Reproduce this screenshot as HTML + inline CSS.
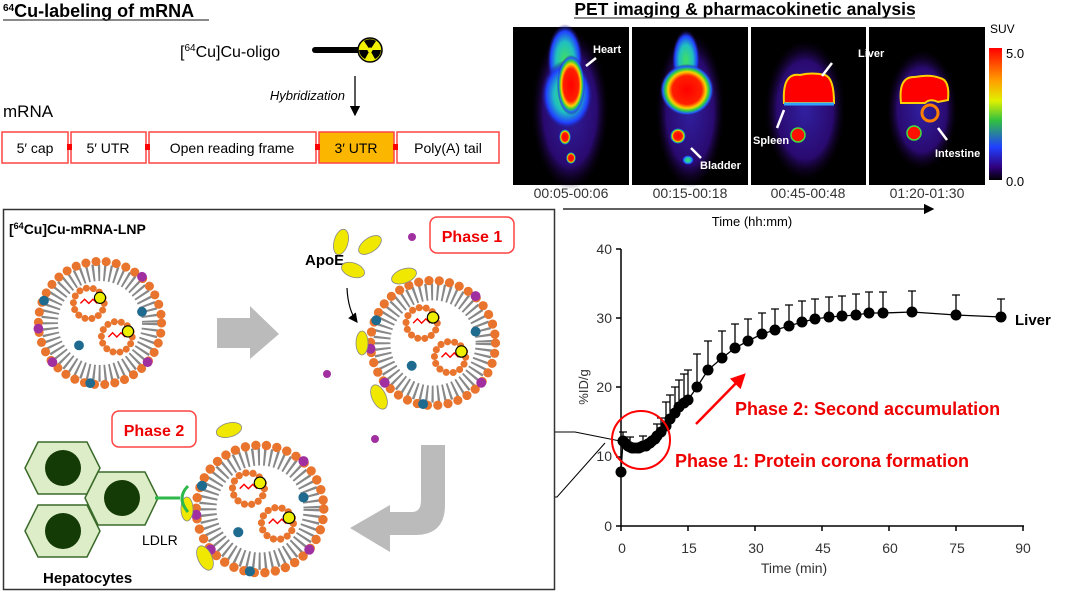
<!DOCTYPE html>
<html><head><meta charset="utf-8"><style>
html,body{margin:0;padding:0;background:#fff;}
svg{display:block;font-family:"Liberation Sans",Arial,sans-serif;}
</style></head><body>
<svg width="1080" height="595" viewBox="0 0 1080 595" xmlns="http://www.w3.org/2000/svg">
<defs>
<radialGradient id="hot" cx="50%" cy="50%" r="50%">
<stop offset="0" stop-color="#ff0000"/><stop offset="0.55" stop-color="#ff2000"/><stop offset="0.7" stop-color="#ffd000"/><stop offset="0.8" stop-color="#30d040"/><stop offset="0.9" stop-color="#2060ff"/><stop offset="1" stop-color="#2a0a60" stop-opacity="0"/>
</radialGradient>
<radialGradient id="warm" cx="50%" cy="50%" r="50%">
<stop offset="0" stop-color="#40e060"/><stop offset="0.5" stop-color="#20c0c0"/><stop offset="0.8" stop-color="#2040ff"/><stop offset="1" stop-color="#200860" stop-opacity="0"/>
</radialGradient>
<radialGradient id="dim" cx="50%" cy="50%" r="50%">
<stop offset="0" stop-color="#3020a0"/><stop offset="0.7" stop-color="#2a0a70"/><stop offset="1" stop-color="#100020" stop-opacity="0"/>
</radialGradient>
<linearGradient id="cbar" x1="0" y1="0" x2="0" y2="1">
<stop offset="0" stop-color="#ff0000"/><stop offset="0.25" stop-color="#ffa000"/><stop offset="0.4" stop-color="#e0f000"/><stop offset="0.55" stop-color="#30c040"/><stop offset="0.75" stop-color="#2040ff"/><stop offset="0.9" stop-color="#300080"/><stop offset="1" stop-color="#000"/>
</linearGradient>
<marker id="ah" markerWidth="8" markerHeight="8" refX="7" refY="4" orient="auto"><path d="M0,0 L8,4 L0,8 z" fill="#000"/></marker>
<marker id="ahr" markerWidth="6" markerHeight="6" refX="5" refY="3" orient="auto"><path d="M0,0 L6,3 L0,6 z" fill="#f00"/></marker>
<g id="lnp">
<circle r="44" fill="#fff"/>
<circle r="36" fill="none" stroke="#888" stroke-width="12" stroke-dasharray="1.5 2.5"/>
<circle r="44" fill="none" stroke="#e8742e" stroke-width="6.5" stroke-dasharray="0 7.3" stroke-linecap="round"/>
<circle cx="-8" cy="-14" r="11" fill="none" stroke="#e8742e" stroke-width="5" stroke-dasharray="0 5" stroke-linecap="round"/>
<circle cx="12" cy="10" r="11" fill="none" stroke="#e8742e" stroke-width="5" stroke-dasharray="0 5" stroke-linecap="round"/>
<path d="M-14,-14 l3,-3 l3,3 l3,-3 l3,3" stroke="#f00" fill="none" stroke-width="1"/>
<path d="M6,10 l3,-3 l3,3 l3,-3 l3,3" stroke="#f00" fill="none" stroke-width="1"/>
<circle cx="0" cy="-18" r="4" fill="#ee0" stroke="#000" stroke-width="0.8"/>
<circle cx="20" cy="6" r="4" fill="#ee0" stroke="#000" stroke-width="0.8"/>
<circle cx="-40" cy="-16" r="3.5" fill="#1f6a8f"/><circle cx="30" cy="-8" r="3.5" fill="#1f6a8f"/><circle cx="-15" cy="16" r="3.5" fill="#1f6a8f"/><circle cx="-7" cy="43" r="3.5" fill="#1f6a8f"/>
<circle cx="-34" cy="28" r="3.5" fill="#a030a0"/><circle cx="34" cy="28" r="3.5" fill="#a030a0"/><circle cx="-44" cy="4" r="3.5" fill="#a030a0"/><circle cx="30" cy="-33" r="3.5" fill="#a030a0"/>
</g>
</defs>

<!-- Top left -->
<text x="3" y="17" font-size="18" font-weight="bold"><tspan font-size="10" dy="-6">64</tspan><tspan dy="6">Cu-labeling of mRNA</tspan></text>
<line x1="3" y1="20" x2="209" y2="20" stroke="#444" stroke-width="1.2"/>
<text x="180" y="57" font-size="16">[<tspan font-size="10" dy="-6">64</tspan><tspan dy="6">Cu]Cu-oligo</tspan></text>
<line x1="315" y1="50" x2="362" y2="50" stroke="#000" stroke-width="6" stroke-linecap="round"/>
<circle cx="370" cy="50" r="12" fill="#f0f000" stroke="#000" stroke-width="1.5"/>
<path d="M370,50 L364,41 A11,11 0 0 1 376,41 Z M370,50 L381,50 A11,11 0 0 1 375,59 Z M370,50 L365,59 A11,11 0 0 1 359,50 Z" fill="#000"/>
<circle cx="370" cy="50" r="2.5" fill="#f0f000"/>
<line x1="355" y1="76" x2="355" y2="115" stroke="#000" stroke-width="1.3" marker-end="url(#ah)"/>
<text x="345" y="100" font-size="13" font-style="italic" text-anchor="end">Hybridization</text>
<text x="3" y="117" font-size="17">mRNA</text>
<g font-size="14" text-anchor="middle" stroke-width="1.5">
<rect x="2" y="132" width="66" height="31" fill="#fff" stroke="#f44"/><text x="35" y="153">5′ cap</text>
<rect x="71" y="132" width="75" height="31" fill="#fff" stroke="#f44"/><text x="108" y="153">5′ UTR</text>
<rect x="149" y="132" width="167" height="31" fill="#fff" stroke="#f44"/><text x="232" y="153">Open reading frame</text>
<rect x="319" y="132" width="75" height="31" fill="#fbb700" stroke="#f44"/><text x="356" y="153">3′ UTR</text>
<rect x="397" y="132" width="102" height="31" fill="#fff" stroke="#f44"/><text x="448" y="153">Poly(A) tail</text>
</g>
<g fill="#f00"><rect x="67" y="144" width="5" height="6"/><rect x="145" y="144" width="5" height="6"/><rect x="315" y="144" width="5" height="6"/><rect x="393" y="144" width="5" height="6"/></g>

<!-- PET -->
<text x="745" y="15" font-size="17.5" font-weight="bold" text-anchor="middle">PET imaging &amp; pharmacokinetic analysis</text>
<line x1="574" y1="18" x2="915" y2="18" stroke="#444" stroke-width="1.2"/>
<g>
<rect x="513" y="27" width="116" height="158" fill="#000"/>
<ellipse cx="570" cy="110" rx="38" ry="80" fill="url(#dim)"/>
<ellipse cx="565" cy="60" rx="18" ry="36" fill="url(#warm)"/>
<ellipse cx="567" cy="95" rx="26" ry="35" fill="url(#warm)"/>
<ellipse cx="571" cy="85" rx="14" ry="30" fill="url(#hot)"/>
<ellipse cx="565" cy="137" rx="6" ry="8" fill="url(#hot)"/>
<ellipse cx="571" cy="158" rx="5" ry="6" fill="url(#hot)"/>
<rect x="632" y="27" width="116" height="158" fill="#000"/>
<ellipse cx="690" cy="110" rx="34" ry="78" fill="url(#dim)"/>
<ellipse cx="686" cy="60" rx="14" ry="30" fill="url(#warm)"/>
<ellipse cx="687" cy="90" rx="27" ry="26" fill="url(#hot)"/>
<ellipse cx="678" cy="136" rx="8" ry="8" fill="url(#hot)"/>
<ellipse cx="688" cy="160" rx="6" ry="5" fill="url(#warm)"/>
<rect x="751" y="27" width="115" height="158" fill="#000"/>
<ellipse cx="805" cy="110" rx="40" ry="70" fill="url(#dim)"/>
<path d="M784,103 Q782,72 800,75 Q812,72 825,75 Q834,78 834,103 Z" fill="#ff0000" stroke="#ffd000" stroke-width="2"/>
<path d="M784,104 L834,104" stroke="#30a0ff" stroke-width="3"/>
<circle cx="798" cy="135" r="7" fill="#ff1000" stroke="#40e040" stroke-width="1.5"/>
<rect x="869" y="27" width="116" height="158" fill="#000"/>
<ellipse cx="922" cy="110" rx="35" ry="60" fill="url(#dim)"/>
<path d="M901,103 Q898,76 915,77 Q930,74 940,78 Q950,80 948,100 L938,102 Q930,98 925,103 Z" fill="#ff0000" stroke="#ffd000" stroke-width="2"/>
<circle cx="930" cy="113" r="8" fill="none" stroke="#ff8000" stroke-width="3"/>
<circle cx="914" cy="133" r="7" fill="#ff1000" stroke="#40e040" stroke-width="1.5"/>
</g>
<g fill="#fff" font-size="11" font-weight="bold">
<text x="593" y="53">Heart</text><text x="700" y="169">Bladder</text><text x="753" y="144">Spleen</text><text x="858" y="57">Liver</text><text x="935" y="157">Intestine</text>
</g>
<g stroke="#fff" stroke-width="2.5">
<line x1="596" y1="58" x2="586" y2="66"/><line x1="701" y1="158" x2="691" y2="148"/><line x1="777" y1="128" x2="784" y2="110"/><line x1="832" y1="63" x2="822" y2="76"/><line x1="947" y1="140" x2="938" y2="128"/>
</g>
<rect x="989" y="48" width="13" height="132" fill="url(#cbar)"/>
<text x="990" y="33" font-size="12">SUV</text>
<text x="1006" y="58" font-size="13">5.0</text>
<text x="1006" y="186" font-size="13">0.0</text>
<g font-size="14" text-anchor="middle" fill="#333">
<text x="571" y="198">00:05-00:06</text><text x="690" y="198">00:15-00:18</text><text x="808" y="198">00:45-00:48</text><text x="927" y="198">01:20-01:30</text>
</g>
<line x1="563" y1="209" x2="933" y2="209" stroke="#000" stroke-width="1.3" marker-end="url(#ah)"/>
<text x="752" y="226" font-size="13" text-anchor="middle">Time (hh:mm)</text>

<!-- Left box -->
<rect x="3.5" y="209.5" width="551" height="380" fill="#fff" stroke="#333" stroke-width="1.5"/>
<text x="9" y="234" font-size="14" font-weight="bold">[<tspan font-size="9" dy="-5">64</tspan><tspan dy="5">Cu]Cu-mRNA-LNP</tspan></text>
<use href="#lnp" transform="translate(100,323) scale(1.4)"/>
<use href="#lnp" transform="translate(433,343) scale(1.42)"/>
<use href="#lnp" transform="translate(260,509) scale(1.45)"/>
<path d="M217,318 L250,318 L250,306 L279,334 L250,359 L250,348 L217,348 Z" fill="#bbb"/>
<path d="M421,445 L445,445 L445,505 Q445,535 415,535 L390,535 L390,552 L350,528 L390,505 L390,512 L412,512 Q421,512 421,500 Z" fill="#bbb"/>
<text x="305" y="265" font-size="15" font-weight="bold">ApoE</text>
<path d="M347,288 Q348,310 357,322" fill="none" stroke="#000" stroke-width="1.2" marker-end="url(#ah)"/>
<g fill="#f0e800" stroke="#888" stroke-width="0.8">
<ellipse cx="341" cy="242" rx="7" ry="13" transform="rotate(15 341 242)"/>
<ellipse cx="370" cy="245" rx="13" ry="7" transform="rotate(-35 370 245)"/>
<ellipse cx="353" cy="270" rx="12" ry="7" transform="rotate(20 353 270)"/>
<ellipse cx="404" cy="276" rx="13" ry="7" transform="rotate(-20 404 276)"/>
<ellipse cx="362" cy="343" rx="6" ry="12"/>
<ellipse cx="379" cy="397" rx="7" ry="13" transform="rotate(-25 379 397)"/>
<ellipse cx="229" cy="430" rx="13" ry="7" transform="rotate(-15 229 430)"/>
<ellipse cx="187" cy="509" rx="6" ry="12"/>
<ellipse cx="205" cy="558" rx="7" ry="13" transform="rotate(-25 205 558)"/>
</g>
<rect x="430" y="217" width="84" height="36" rx="7" fill="#fff" stroke="#f44" stroke-width="1.5"/>
<text x="472" y="242" font-size="16" font-weight="bold" fill="#e00" text-anchor="middle">Phase 1</text>
<rect x="112" y="411" width="84" height="36" rx="7" fill="#fff" stroke="#f44" stroke-width="1.5"/>
<text x="154" y="436" font-size="16" font-weight="bold" fill="#e00" text-anchor="middle">Phase 2</text>
<g fill="#dcedc8" stroke="#3a6a2a" stroke-width="1.5">
<polygon points="38,442 87,442 100,468 87,494 38,494 25,468"/>
<polygon points="98,472 145,472 158,498 145,525 98,525 85,498"/>
<polygon points="38,505 87,505 100,531 87,557 38,557 25,531"/>
</g>
<g fill="#143a05"><circle cx="63" cy="468" r="18"/><circle cx="122" cy="498" r="18"/><circle cx="63" cy="531" r="18"/></g>
<line x1="155" y1="498" x2="180" y2="498" stroke="#2db84a" stroke-width="3"/>
<path d="M188,486 Q176,498 188,512" fill="none" stroke="#2db84a" stroke-width="3"/>
<text x="142" y="545" font-size="14">LDLR</text>
<text x="43" y="583" font-size="15" font-weight="bold">Hepatocytes</text>
<g fill="#a030a0"><circle cx="412" cy="237" r="4"/><circle cx="327" cy="374" r="4"/><circle cx="375" cy="439" r="4"/></g>

<!-- Connectors -->
<polyline points="555,432 575,432 620,441" fill="none" stroke="#000" stroke-width="1"/>
<polyline points="555,497 557,497 605,443" fill="none" stroke="#000" stroke-width="1"/>

<!-- Chart -->
<g stroke="#000" stroke-width="1.5" fill="none">
<line x1="621" y1="249" x2="621" y2="526"/>
<line x1="621" y1="526" x2="1024" y2="526"/>
<line x1="616" y1="249" x2="621" y2="249"/><line x1="616" y1="318" x2="621" y2="318"/><line x1="616" y1="387" x2="621" y2="387"/><line x1="616" y1="457" x2="621" y2="457"/><line x1="616" y1="526" x2="621" y2="526"/>
<line x1="621" y1="526" x2="621" y2="531"/><line x1="688" y1="526" x2="688" y2="531"/><line x1="755" y1="526" x2="755" y2="531"/><line x1="822" y1="526" x2="822" y2="531"/><line x1="889" y1="526" x2="889" y2="531"/><line x1="956" y1="526" x2="956" y2="531"/><line x1="1023" y1="526" x2="1023" y2="531"/>
</g>
<g font-size="14" fill="#333" text-anchor="end">
<text x="612" y="254">40</text><text x="612" y="323">30</text><text x="612" y="392">20</text><text x="612" y="461">10</text><text x="612" y="531">0</text>
</g>
<g font-size="14" fill="#333" text-anchor="middle">
<text x="622" y="553">0</text><text x="689" y="553">15</text><text x="756" y="553">30</text><text x="823" y="553">45</text><text x="890" y="553">60</text><text x="957" y="553">75</text><text x="1023" y="553">90</text>
</g>
<text x="794" y="573" font-size="14" fill="#333" text-anchor="middle">Time (min)</text>
<text x="0" y="0" font-size="13" fill="#333" text-anchor="middle" transform="translate(588,387) rotate(-90)">%ID/g</text>
<g stroke="#000" stroke-width="1.3">
<path d="M623,441V432M619,432h8 M630,447V437M626,437h8 M643,446V436M639,436h8 M657,436V424M653,424h8 M661,432V418M657,418h8 M666,426V402M662,402h8 M670,419V395M666,395h8 M675,413V387M671,387h8 M679,407V380M675,380h8 M684,403V374M680,374h8 M688,400V370M684,370h8 M697,387V354M693,354h8 M708,370V341M704,341h8 M722,358V331M718,331h8 M735,348V324M731,324h8 M748,341V319M744,319h8 M762,334V313M758,313h8 M775,330V309M771,309h8 M789,326V305M785,305h8 M802,322V301M798,301h8 M815,319V299M811,299h8 M829,317V297M825,297h8 M842,316V296M838,296h8 M856,315V294M852,294h8 M869,313V292M865,292h8 M883,313V292M879,292h8 M912,312V291M908,291h8 M956,315V295M952,295h8 M1001,317V299M997,299h8"/>
</g>
<polyline fill="none" stroke="#000" stroke-width="1.3" points="621,472 623,441 625,443 628,446 630,447 632,448 634,448 637,448 639,448 641,447 643,446 646,446 648,444 650,443 652,441 655,439 657,436 661,432 666,426 670,419 675,413 679,407 684,403 688,400 697,387 708,370 722,358 735,348 748,341 762,334 775,330 789,326 802,322 815,319 829,317 842,316 856,315 869,313 883,313 912,312 956,315 1001,317"/>
<g fill="#000">
<circle cx="621" cy="472" r="5.5"/><circle cx="623" cy="441" r="5.5"/><circle cx="625" cy="443" r="5.5"/><circle cx="628" cy="446" r="5.5"/><circle cx="630" cy="447" r="5.5"/><circle cx="632" cy="448" r="5.5"/><circle cx="634" cy="448" r="5.5"/><circle cx="637" cy="448" r="5.5"/><circle cx="639" cy="448" r="5.5"/><circle cx="641" cy="447" r="5.5"/><circle cx="643" cy="446" r="5.5"/><circle cx="646" cy="446" r="5.5"/><circle cx="648" cy="444" r="5.5"/><circle cx="650" cy="443" r="5.5"/><circle cx="652" cy="441" r="5.5"/><circle cx="655" cy="439" r="5.5"/><circle cx="657" cy="436" r="5.5"/><circle cx="661" cy="432" r="5.5"/><circle cx="666" cy="426" r="5.5"/><circle cx="670" cy="419" r="5.5"/><circle cx="675" cy="413" r="5.5"/><circle cx="679" cy="407" r="5.5"/><circle cx="684" cy="403" r="5.5"/><circle cx="688" cy="400" r="5.5"/><circle cx="697" cy="387" r="5.5"/><circle cx="708" cy="370" r="5.5"/><circle cx="722" cy="358" r="5.5"/><circle cx="735" cy="348" r="5.5"/><circle cx="748" cy="341" r="5.5"/><circle cx="762" cy="334" r="5.5"/><circle cx="775" cy="330" r="5.5"/><circle cx="789" cy="326" r="5.5"/><circle cx="802" cy="322" r="5.5"/><circle cx="815" cy="319" r="5.5"/><circle cx="829" cy="317" r="5.5"/><circle cx="842" cy="316" r="5.5"/><circle cx="856" cy="315" r="5.5"/><circle cx="869" cy="313" r="5.5"/><circle cx="883" cy="313" r="5.5"/><circle cx="912" cy="312" r="5.5"/><circle cx="956" cy="315" r="5.5"/><circle cx="1001" cy="317" r="5.5"/>
</g>
<text x="1015" y="325" font-size="15" font-weight="bold">Liver</text>
<circle cx="641" cy="440" r="29" fill="none" stroke="#f00" stroke-width="2"/>
<line x1="696" y1="424" x2="744" y2="375" stroke="#f00" stroke-width="2.5" marker-end="url(#ahr)"/>
<text x="735" y="415" font-size="18" font-weight="bold" fill="#e00">Phase 2: Second accumulation</text>
<text x="675" y="467" font-size="18" font-weight="bold" fill="#e00">Phase 1: Protein corona formation</text>
</svg>
</body></html>
